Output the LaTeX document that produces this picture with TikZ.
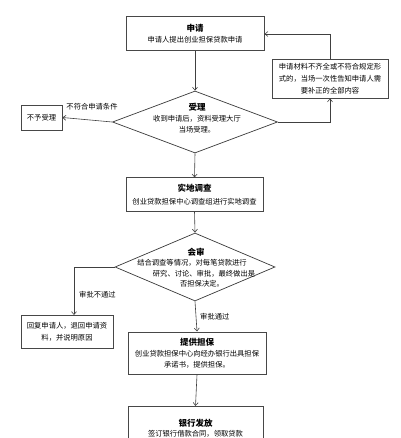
\documentclass[tikz,border=0pt]{standalone}
\usepackage{fontspec}
\setmainfont{Noto Sans CJK SC}
\usetikzlibrary{arrows.meta,shapes.geometric,calc}
\newcommand\subf{\fontsize{7.3}{11}\selectfont}
\newcommand\ttlf{\fontsize{8.5}{11}\selectfont\bfseries}
\tikzset{
  box/.style={draw=black!72, line width=1pt, inner sep=0pt, align=center, font=\subf},
  dia/.style={diamond, draw=black!78, line width=0.7pt, inner sep=0pt},
  arr/.style={draw=black!75, line width=0.6pt, -{Straight Barb[length=3pt,width=5pt]}},
  lbl/.style={font=\subf, inner sep=0pt, align=center},
}
\begin{document}
\begin{tikzpicture}[x=1pt,y=-1pt]
\useasboundingbox (0,0) rectangle (400,438);
\clip (0,0) rectangle (400,438);
% boxes
\node[box, minimum width=138pt, minimum height=34pt] (sq) at (195,34)
  {{\ttlf 申请}\\[0pt]申请人提出创业担保贷款申请};
\node[box, minimum width=116pt, minimum height=39pt, line width=0.8pt] (side) at (330,78.5)
  {申请材料不齐全或不符合规定形\\[1.2pt]式的，当场一次性告知申请人需\\[1.2pt]要补正的全部内容};
\node[dia, minimum width=165pt, minimum height=62pt] (sl) at (195,122) {};
\node[lbl] (slT) at (197,118) {{\ttlf 受理}\\[0pt]收到申请后，资料受理大厅\\当场受理。};
\node[box, minimum width=41pt, minimum height=25pt, line width=0.8pt] (bu) at (41.5,117.5) {不予受理};
\node[box, minimum width=137pt, minimum height=33pt] (sd) at (194.5,194.5)
  {{\ttlf 实地调查}\\[2pt]创业贷款担保中心调查组进行实地调查};
\node[dia, minimum width=160pt, minimum height=68pt] (hs) at (195,267) {};
\node[lbl] (hsT) at (196,252) {\ttlf 会审};
\node[lbl] (hs1) at (192,263) {结合调查等情况，对每笔贷款进行};
\node[lbl] (hs2) at (204,273.5) {研究、讨论、审批，最终做出是};
\node[lbl] (hs3) at (202,284) {否担保决定。};
\node[box, minimum width=92pt, minimum height=33pt, line width=0.8pt] (hf) at (67,331.5)
  {回复申请人，退回申请资\\[1pt]料，并说明原因};
\node[box, minimum width=138pt, minimum height=42pt] (tg) at (197,353)
  {{\ttlf 提供担保}\\[0pt]创业贷款担保中心向经办银行出具担保\\承诺书，提供担保。};
\node[box, minimum width=135pt, minimum height=60pt, anchor=north] (yh) at (195.5,406)
  {};
\node[lbl] (yhT) at (195.5,423) {\ttlf 银行发放};
\node[lbl] (yh1) at (195.5,433.5) {签订银行借款合同，领取贷款};
% connectors
\coordinate (hfin) at (74,315);
\draw[arr] (sq.south) -- (sl.north);
\draw[arr] (sl.east) -| (side.south);
\draw[arr] (side.north) |- (sq.east);
\draw[arr] (sl.west) -- (bu.east);
\node[lbl] (l1) at (92,107) {不符合申请条件};
\draw[arr] (sl.south) -- (sd.north);
\draw[arr] (sd.south) -- (hs.north);
\draw[arr] (hs.west) -| (hfin);
\node[lbl, anchor=west] (l2) at (79,295) {审批不通过};
\draw[arr] (hs.south) -- (tg.north);
\node[lbl, anchor=west] (l3) at (200,317) {审批通过};
\draw[arr] (tg.south) -- (yh.north);
\end{tikzpicture}
\end{document}
